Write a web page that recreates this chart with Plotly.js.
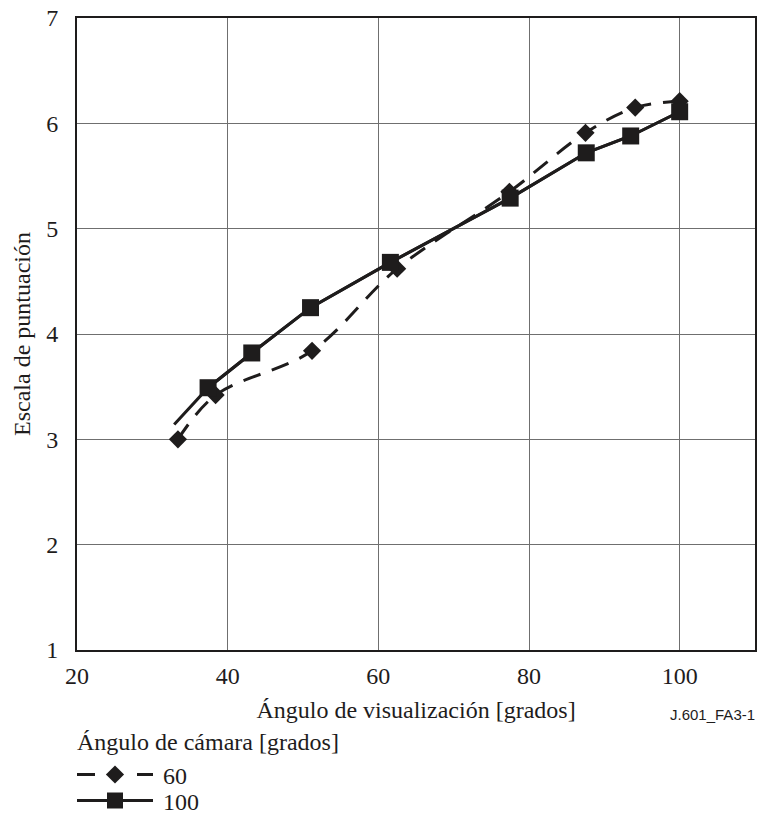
<!DOCTYPE html>
<html>
<head>
<meta charset="utf-8">
<script src="https://cdn.plot.ly/plotly-3.0.1.min.js"></script>
<style>
  html, body { margin: 0; padding: 0; background: #fff; }
  #chart { width: 762px; height: 814px; }
</style>
</head>
<body>
<div id="chart"></div>
<script>
// Series: camera angle 60 degrees (diamonds, dashed)
const cam60X = [33.4, 38.4, 51.2, 62.5, 77.4, 87.5, 94.1, 100];
const cam60Y = [3.0, 3.42, 3.84, 4.62, 5.35, 5.91, 6.15, 6.21];
// Series: camera angle 100 degrees (squares, solid)
const cam100X = [37.4, 43.2, 51.0, 61.6, 77.5, 87.6, 93.5, 100];
const cam100Y = [3.49, 3.82, 4.25, 4.68, 5.29, 5.72, 5.88, 6.11];
// The solid curve starts a little before its first marker
const cam100LeadX = [32.9];
const cam100LeadY = [3.14];

const seriesNames = ['60', '100'];
const xTitle = 'Ángulo de visualización [grados]';
const yTitle = 'Escala de puntuación';
const legendTitle = 'Ángulo de cámara [grados]';
const figureId = 'J.601_FA3-1';

const ink = '#1e1c1c';
const serif = 'Liberation Serif';
const fs = 24;

const traces = [
  {
    x: cam100LeadX.concat(cam100X),
    y: cam100LeadY.concat(cam100Y),
    mode: 'lines',
    line: { color: ink, width: 3 },
    showlegend: false,
    hoverinfo: 'skip'
  },
  {
    x: cam60X, y: cam60Y,
    name: seriesNames[0],
    mode: 'lines+markers',
    line: { color: ink, width: 3, dash: '18px,12px', shape: 'spline', smoothing: 1 },
    marker: { symbol: 'diamond', size: 14, color: ink }
  },
  {
    x: cam100X, y: cam100Y,
    name: seriesNames[1],
    mode: 'lines+markers',
    line: { color: ink, width: 3 },
    marker: { symbol: 'square', size: 17, color: ink }
  }
];

const axisCommon = {
  showline: true, mirror: true, linecolor: ink, linewidth: 2,
  showgrid: true, gridcolor: '#6f6f6f', gridwidth: 1,
  zeroline: false, ticks: '', automargin: true,
  tickfont: { family: serif, size: fs, color: ink }
};

const layout = {
  width: 762, height: 814,
  margin: { l: 77, r: 5, t: 15, b: 164 },
  paper_bgcolor: '#fff', plot_bgcolor: '#fff',
  font: { family: serif, color: ink, size: fs },
  xaxis: Object.assign({}, axisCommon, {
    range: [20, 110], dtick: 20, tick0: 20,
    ticklabelstandoff: 3,
    title: { text: xTitle, font: { family: serif, size: fs, color: ink }, standoff: 13 }
  }),
  yaxis: Object.assign({}, axisCommon, {
    range: [1, 7], dtick: 1, tick0: 1,
    ticklabelstandoff: 12,
    title: { text: yTitle, font: { family: serif, size: fs, color: ink }, standoff: 9 }
  }),
  showlegend: true,
  // drawn inside the plot first (so it never pushes the margins), then moved below it
  legend: {
    x: 0.02, xanchor: 'left', xref: 'paper',
    y: 0.98, yanchor: 'top', yref: 'paper',
    orientation: 'v',
    itemwidth: 81,
    font: { family: serif, size: fs, color: ink },
    title: { text: legendTitle, font: { family: serif, size: fs, color: ink } },
    bgcolor: 'rgba(0,0,0,0)', borderwidth: 0
  },
  annotations: [
    {
      text: figureId, xref: 'paper', yref: 'paper',
      x: 1, xshift: 2, y: -0.1024, xanchor: 'right', yanchor: 'middle', showarrow: false,
      font: { family: 'Liberation Sans', size: 15, color: ink }
    }
  ]
};

function parseTranslate(el) {
  const t = el.getAttribute('transform') || '';
  const m = t.match(/translate\(\s*([-\d.e]+)[ ,]+([-\d.e]+)\s*\)/);
  return m ? [parseFloat(m[1]), parseFloat(m[2])] : [0, 0];
}

Plotly.newPlot('chart', traces, layout, { displayModeBar: false, staticPlot: true }).then(function (gd) {
  const leg = gd.querySelector('.legend');
  if (!leg) return;
  leg.querySelectorAll('[clip-path]').forEach(function (e) { e.removeAttribute('clip-path'); });

  // legend sample lines stretched across the symbol area, markers centred
  const len = 76;
  leg.querySelectorAll('.legendlines path').forEach(function (p) {
    p.setAttribute('d', 'M5,0h' + len);
  });
  leg.querySelectorAll('.legendpoints path.scatterpts').forEach(function (p) {
    p.setAttribute('transform', 'translate(' + (5 + len / 2) + ',0)');
  });
  // dashed sample: a dash each side of the diamond
  const dashed = leg.querySelectorAll('.traces')[0];
  if (dashed) {
    const dp = dashed.querySelector('.legendlines path');
    if (dp) dp.style.strokeDasharray = '18px,42px';
  }

  // place legend rows like the reference (row centres 774.5 and 800.5)
  const rowCentres = [774.5, 800.5];
  leg.querySelectorAll('.traces').forEach(function (g, i) {
    const ctm = g.getCTM();
    const tr = parseTranslate(g);
    const nx = tr[0] + (72 - ctm.e);
    const ny = tr[1] + (rowCentres[i] - ctm.f);
    g.setAttribute('transform', 'translate(' + nx + ',' + ny + ')');
  });
  // legend title: baseline near y = 750, left edge at x = 77
  const tt = leg.querySelector('.legendtitletext');
  if (tt) {
    const r = tt.getBoundingClientRect();
    const dy = (750 - 0.891 * fs) - r.top;
    const dx = 77 - r.left;
    tt.setAttribute('transform', 'translate(' + dx + ',' + dy + ')');
  }
});
</script>
</body>
</html>
